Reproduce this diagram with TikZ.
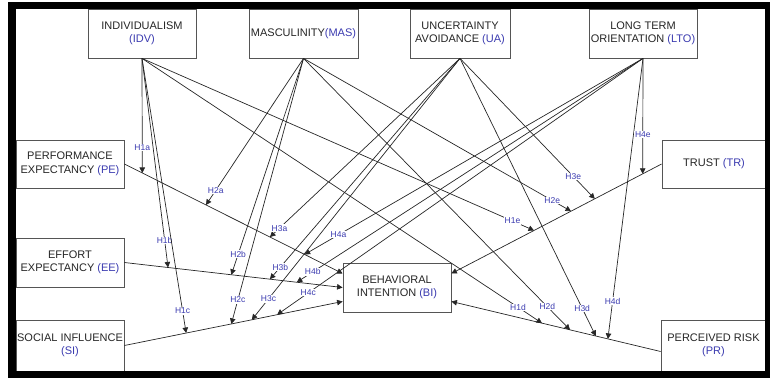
\documentclass[tikz,border=0pt]{standalone}
\usepackage{fontspec}
\setmainfont{Liberation Sans}
\usepackage{xcolor}
\definecolor{abvblue}{HTML}{3B3BB0}
\definecolor{boxgray}{HTML}{555555}
\usetikzlibrary{arrows.meta}
\tikzset{
  varbox/.style={draw=boxgray, fill=white, line width=0.8pt, align=center,
    text=black!85, font=\fontsize{11}{13.5}\selectfont, inner sep=1pt},
  arr/.style={-{Triangle[length=5.5pt,width=5.5pt]}, line width=0.7pt, draw=black!85},
  hyp/.style={text=abvblue, font=\fontsize{8.5}{9}\selectfont, fill=white, inner sep=0.6pt}
}
\newcommand{\abv}[1]{\textcolor{abvblue}{#1}}

\begin{document}
\begin{tikzpicture}[x=1pt, y=-1pt]
  \useasboundingbox (0,0) rectangle (770,379);

  % cultural dimensions (moderators)
  \node[varbox, minimum width=108pt, minimum height=49pt] (idv) at (142,33.5) {INDIVIDUALISM\\\abv{(IDV)}};
  \node[varbox, minimum width=109pt, minimum height=49pt] (mas) at (303.5,33.5) {MASCULINITY\abv{(MAS)}};
  \node[varbox, minimum width=100pt, minimum height=49pt] (ua) at (460,33.5) {UNCERTAINTY\\AVOIDANCE \abv{(UA)}};
  \node[varbox, minimum width=108pt, minimum height=49pt] (lto) at (643,33.5) {LONG TERM\\ORIENTATION \abv{(LTO)}};

  % predictors and outcome
  \node[varbox, minimum width=108pt, minimum height=48pt] (pe) at (70,164) {PERFORMANCE\\EXPECTANCY \abv{(PE)}};
  \node[varbox, minimum width=108pt, minimum height=49pt] (ee) at (70,262.5) {EFFORT\\EXPECTANCY \abv{(EE)}};
  \node[varbox, minimum width=108pt, minimum height=51pt] (si) at (70,345.5) {SOCIAL INFLUENCE\\\abv{(SI)}};
  \node[varbox, minimum width=108pt, minimum height=49pt] (bi) at (397,287.5) {BEHAVIORAL\\INTENTION \abv{(BI)}};
  \node[varbox, minimum width=104pt, minimum height=48pt] (tr) at (714,164) {TRUST \abv{(TR)}};
  \node[varbox, minimum width=105pt, minimum height=51pt] (pr) at (713.5,345.5) {PERCEIVED RISK\\\abv{(PR)}};

  % direct paths into BI
  \draw[arr] (pe.east) -- ([yshift=14pt]bi.west)
    coordinate[pos=.082] (pe1) coordinate[pos=.374] (pe2)
    coordinate[pos=.667] (pe3) coordinate[pos=.826] (pe4);
  \draw[arr] (ee.east) -- (bi.west)
    coordinate[pos=.20] (ee1) coordinate[pos=.49] (ee2)
    coordinate[pos=.667] (ee3) coordinate[pos=.79] (ee4);
  \draw[arr] (si.east) -- ([yshift=-14pt]bi.west)
    coordinate[pos=.283] (si1) coordinate[pos=.49] (si2)
    coordinate[pos=.584] (si3) coordinate[pos=.70] (si4);
  \draw[arr] (tr.west) -- ([yshift=14pt]bi.east)
    coordinate[pos=.607] (tr1) coordinate[pos=.431] (tr2)
    coordinate[pos=.318] (tr3) coordinate[pos=.09] (tr4);
  \draw[arr] ([yshift=-6pt]pr.west) -- ([yshift=-14pt]bi.east)
    coordinate[pos=.567] (pr1) coordinate[pos=.433] (pr2)
    coordinate[pos=.31] (pr3) coordinate[pos=.252] (pr4);

  % H1: individualism
  \draw[arr] (idv.south) -- (pe1) node[hyp, pos=.78] {H1a};
  \draw[arr] (idv.south) -- (ee1) node[hyp, pos=.87] {H1b};
  \draw[arr] (idv.south) -- (si1) node[hyp, pos=.92] {H1c};
  \draw[arr] (idv.south) -- (pr1) node[hyp, pos=.94] {H1d};
  \draw[arr] (idv.south) -- (tr1) node[hyp, pos=.945] {H1e};
  % H2: masculinity
  \draw[arr] (mas.south) -- (pe2) node[hyp, pos=.90] {H2a};
  \draw[arr] (mas.south) -- (ee2) node[hyp, pos=.905] {H2b};
  \draw[arr] (mas.south) -- (si2) node[hyp, pos=.91] {H2c};
  \draw[arr] (mas.south) -- (pr2) node[hyp, pos=.915] {H2d};
  \draw[arr] (mas.south) -- (tr2) node[hyp, pos=.93] {H2e};
  % H3: uncertainty avoidance
  \draw[arr] (ua.south) -- (pe3) node[hyp, pos=.95] {H3a};
  \draw[arr] (ua.south) -- (ee3) node[hyp, pos=.945] {H3b};
  \draw[arr] (ua.south) -- (si3) node[hyp, pos=.92] {H3c};
  \draw[arr] (ua.south) -- (pr3) node[hyp, pos=.90] {H3d};
  \draw[arr] (ua.south) -- (tr3) node[hyp, pos=.84] {H3e};
  % H4: long term orientation
  \draw[arr] (lto.south) -- (pe4) node[hyp, pos=.90] {H4a};
  \draw[arr] (lto.south) -- (ee4) node[hyp, pos=.954] {H4b};
  \draw[arr] (lto.south) -- (si4) node[hyp, pos=.915] {H4c};
  \draw[arr] (lto.south) -- (pr4) node[hyp, pos=.865] {H4d};
  \draw[arr] (lto.south) -- (tr4) node[hyp, pos=.66] {H4e};

  % outer frame
  \draw[line width=7.5pt] (12,5.5) rectangle (768.5,374.5);
\end{tikzpicture}
\end{document}
